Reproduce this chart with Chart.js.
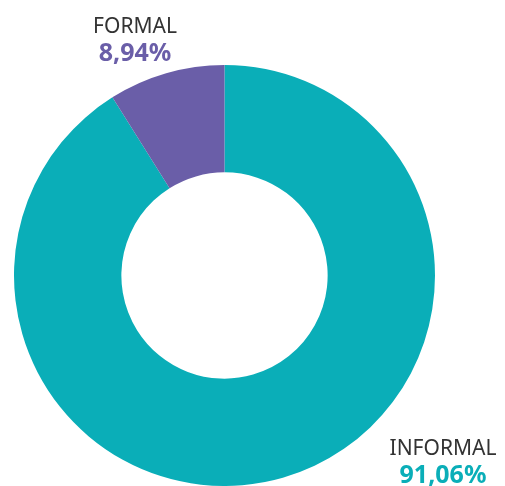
<!DOCTYPE html>
<html>
<head>
<meta charset="utf-8">
<script src="https://cdn.jsdelivr.net/npm/chart.js@4/dist/chart.umd.min.js"></script>
<style>
  html, body { margin: 0; padding: 0; background: #fff; }
  #wrap { width: 505px; height: 486px; }
</style>
</head>
<body>
<div id="wrap"><canvas id="donut" width="505" height="486"></canvas></div>
<script>
// values
const categories = ["INFORMAL", "FORMAL"];
const shares = [91.06, 8.94];
const shareLabels = ["91,06%", "8,94%"];
const sliceColors = ["#0aaeb8", "#6a5ea8"];

// where the two captions sit (pixel anchors, centre of text)
const captionSpots = [
  { x: 443, y: 455 },
  { x: 135, y: 33 }
];

const captions = {
  id: "captions",
  afterDraw(chart) {
    const ctx = chart.ctx;
    ctx.save();
    ctx.textAlign = "center";
    ctx.textBaseline = "alphabetic";
    categories.forEach((name, i) => {
      const p = captionSpots[i];
      ctx.fillStyle = "#333";
      ctx.font = "21px 'Noto Sans'";
      ctx.fillText(name, p.x, p.y);
      ctx.fillStyle = sliceColors[i];
      ctx.font = "bold 25px 'Noto Sans'";
      ctx.fillText(shareLabels[i], p.x, p.y + 28);
    });
    ctx.restore();
  }
};

new Chart(document.getElementById("donut"), {
  type: "doughnut",
  data: {
    labels: categories,
    datasets: [{
      data: shares,
      backgroundColor: sliceColors,
      borderWidth: 0
    }]
  },
  options: {
    responsive: false,
    animation: false,
    cutout: "49%",
    layout: { padding: { left: 14, right: 70, top: 65, bottom: 0 } },
    plugins: {
      legend: { display: false },
      tooltip: { enabled: false }
    }
  },
  plugins: [captions]
});
</script>
</body>
</html>
